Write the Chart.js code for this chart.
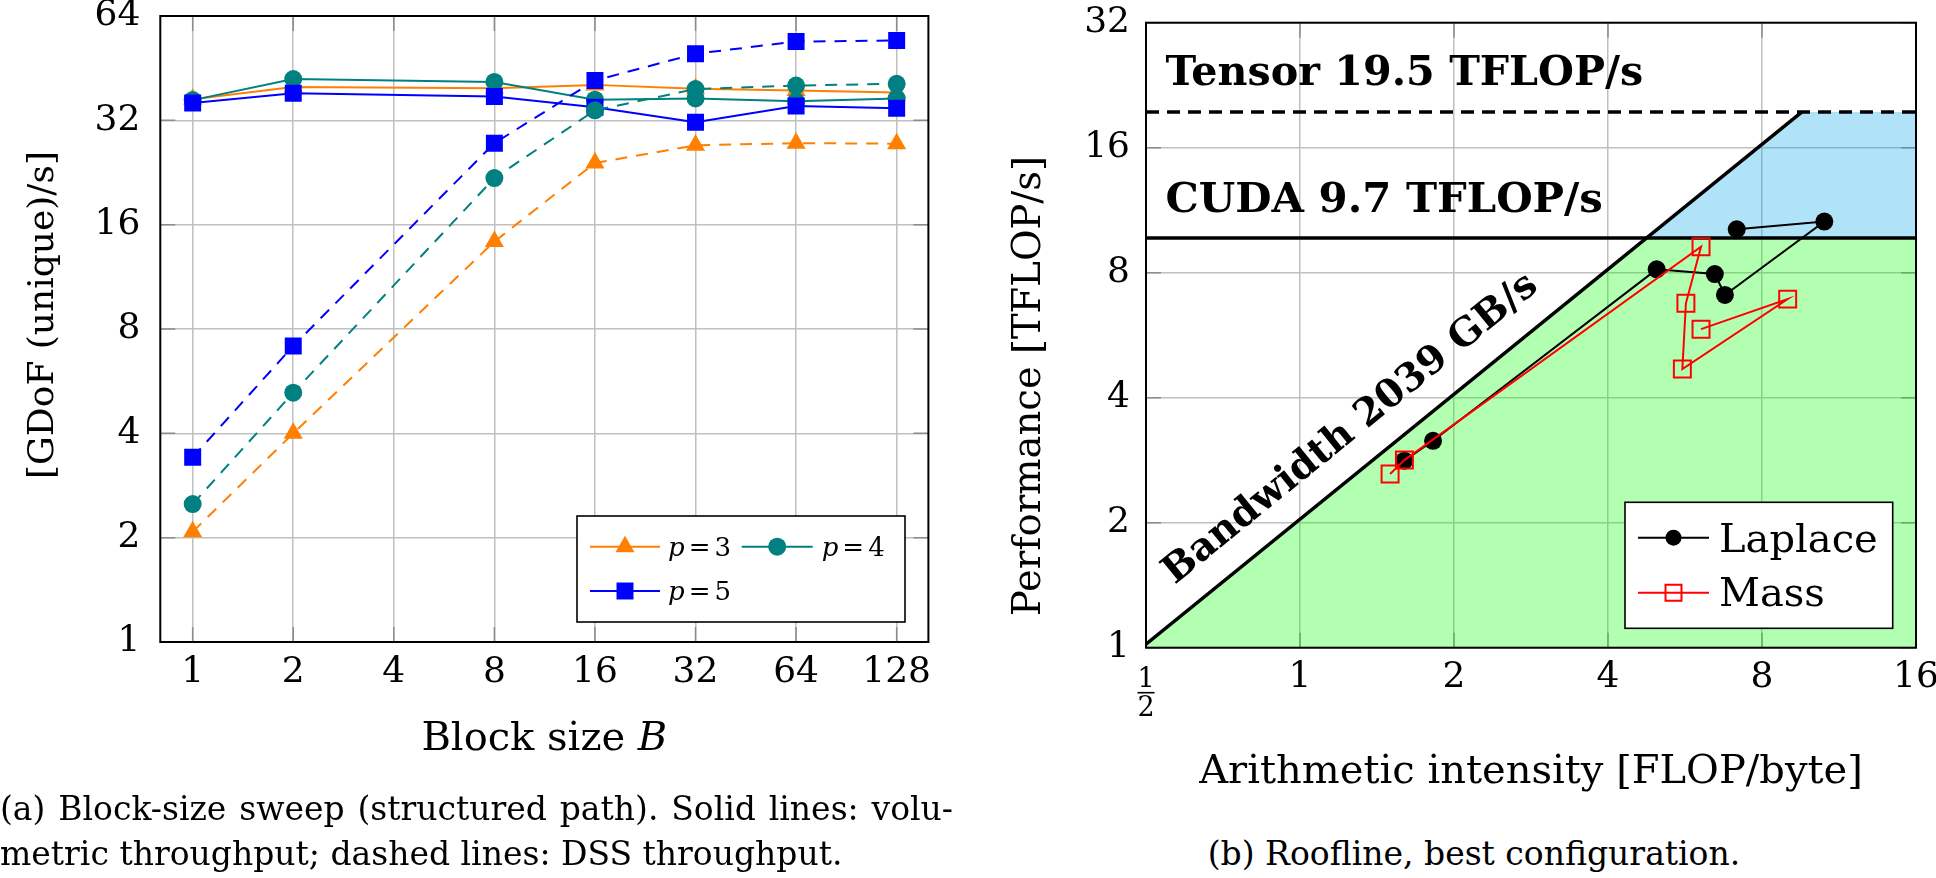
<!DOCTYPE html>
<html>
<head>
<meta charset="utf-8">
<script src="https://cdn.jsdelivr.net/npm/chart.js@4.4.1/dist/chart.umd.min.js"></script>
<style>
  html, body { margin:0; padding:0; background:#ffffff; width:1936px; height:878px; overflow:hidden; }
  canvas { position:absolute; top:0; }
  #left { left:0; }
  #right { left:968px; }
  .cap { position:absolute; font-family:'DejaVu Serif', serif; font-size:33px; line-height:45px; color:#000; white-space:nowrap; }
</style>
</head>
<body>
<canvas id="left" width="968" height="800"></canvas>
<canvas id="right" width="1000" height="800"></canvas>
<div class="cap" style="left:0px; top:786px; width:953px; text-align:justify; text-align-last:justify;">(a) Block-size sweep (structured path). Solid lines: volu-</div>
<div class="cap" style="left:0px; top:831px;">metric throughput; dashed lines: DSS throughput.</div>
<div class="cap" style="left:1206px; top:831px; width:536px; text-align:center;">(b) Roofline, best configuration.</div>
<script>
// ---------------- data: (a) block-size sweep ----------------
const blockSizes = [1, 2, 8, 16, 32, 64, 128];
const volumetricP3 = [36.8, 39.9, 39.6, 40.5, 39.5, 39.0, 38.5];
const volumetricP4 = [36.6, 42.1, 41.3, 36.7, 37.0, 36.3, 37.0];
const volumetricP5 = [35.9, 38.3, 37.5, 34.9, 31.6, 35.2, 34.7];
const dssP3 = [2.08, 4.0, 14.3, 24.1, 27.1, 27.5, 27.4];
const dssP4 = [2.50, 5.24, 21.8, 34.2, 39.4, 40.3, 40.8];
const dssP5 = [3.41, 7.15, 27.5, 41.7, 49.8, 54.0, 54.4];
const degreeLabels = ['p=3', 'p=4', 'p=5'];
const blockTickValues = [1, 2, 4, 8, 16, 32, 64, 128];
const blockTickLabels = ['1', '2', '4', '8', '16', '32', '64', '128'];
const throughputTickValues = [1, 2, 4, 8, 16, 32, 64];
const throughputTickLabels = ['1', '2', '4', '8', '16', '32', '64'];

// ---------------- data: (b) roofline ----------------
const laplaceIntensity = [1.60, 1.82, 4.98, 6.47, 6.77, 10.59, 7.14];
const laplacePerformance = [2.82, 3.15, 8.15, 7.94, 7.07, 10.62, 10.18];
const massIntensity = [1.50, 1.60, 6.08, 5.68, 5.59, 8.98, 6.08];
const massPerformance = [2.62, 2.83, 9.24, 6.75, 4.69, 6.91, 5.85];
const kernelLabels = ['Laplace', 'Mass'];
const bandwidthTBs = 2.039;      // 2039 GB/s
const cudaPeak = 9.7;            // TFLOP/s
const tensorPeak = 19.5;         // TFLOP/s
const intensityRange = [0.5, 16];
const intensityTickValues = [0.5, 1, 2, 4, 8, 16];
const intensityTickLabels = [['1', '2'], '1', '2', '4', '8', '16'];
const perfTickValues = [1, 2, 4, 8, 16, 32];
const perfTickLabels = ['1', '2', '4', '8', '16', '32'];
const rooflineTexts = ['Tensor 19.5 TFLOP/s', 'CUDA 9.7 TFLOP/s', 'Bandwidth 2039 GB/s'];

// ---------------- styling ----------------
const SERIF = "'DejaVu Serif', serif";
const GRID = '#c0c0c0';
const TICKC = '#8c8c8c';
const ORANGE = '#ff8000', TEAL = '#008080', BLUE = '#0000ff', RED = '#ff0000';
Chart.defaults.font.family = SERIF;
Chart.defaults.color = '#000';

function toPoints(xs, ys) { return xs.map((x, i) => ({ x: x, y: ys[i] })); }
function logTicks(values) { return function (scale) { scale.ticks = values.map(v => ({ value: v })); }; }

function innerTicks(chart, len) {
  const { ctx, chartArea: a, scales } = chart;
  ctx.save();
  ctx.strokeStyle = TICKC; ctx.lineWidth = 1.5;
  ctx.beginPath();
  scales.x.ticks.forEach(t => {
    const x = scales.x.getPixelForValue(t.value);
    ctx.moveTo(x, a.bottom); ctx.lineTo(x, a.bottom - len);
    ctx.moveTo(x, a.top); ctx.lineTo(x, a.top + len);
  });
  scales.y.ticks.forEach(t => {
    const y = scales.y.getPixelForValue(t.value);
    ctx.moveTo(a.left, y); ctx.lineTo(a.left + len, y);
    ctx.moveTo(a.right, y); ctx.lineTo(a.right - len, y);
  });
  ctx.stroke();
  ctx.restore();
}
function frame(chart) {
  const { ctx, chartArea: a } = chart;
  ctx.save();
  ctx.strokeStyle = '#000'; ctx.lineWidth = 2;
  ctx.strokeRect(a.left, a.top, a.right - a.left, a.bottom - a.top);
  ctx.restore();
}
function marker(ctx, ds, x, y) {
  ctx.save();
  ctx.fillStyle = ds.pointBackgroundColor;
  ctx.strokeStyle = ds.pointBorderColor;
  ctx.lineWidth = ds.pointBorderWidth;
  Chart.helpers.drawPoint(ctx, { pointStyle: ds.pointStyle, radius: ds.pointRadius, borderWidth: ds.pointBorderWidth, rotation: 0 }, x, y);
  ctx.restore();
}
function legendLine(ctx, ds, x0, x1, y) {
  ctx.save();
  ctx.strokeStyle = ds.borderColor; ctx.lineWidth = 2; ctx.setLineDash([]);
  ctx.beginPath(); ctx.moveTo(x0, y); ctx.lineTo(x1, y); ctx.stroke();
  ctx.restore();
  marker(ctx, ds, (x0 + x1) / 2, y);
}
function legendBox(ctx, x, y, w, h) {
  ctx.save();
  ctx.fillStyle = '#fff'; ctx.fillRect(x, y, w, h);
  ctx.strokeStyle = '#000'; ctx.lineWidth = 1.6; ctx.strokeRect(x, y, w, h);
  ctx.restore();
}
function mathLabel(ctx, text, x, yBase, size) {
  const parts = text.split('=');
  ctx.save();
  ctx.fillStyle = '#000'; ctx.textBaseline = 'alphabetic'; ctx.textAlign = 'left';
  ctx.font = 'italic ' + size + 'px ' + SERIF;
  ctx.fillText(parts[0], x, yBase);
  x += ctx.measureText(parts[0]).width + 4;
  ctx.font = size + 'px ' + SERIF;
  ctx.fillText('=', x, yBase);
  x += ctx.measureText('=').width + 4;
  ctx.fillText(parts[1], x, yBase);
  ctx.restore();
}
function fitSize(ctx, text, weight, target) {
  ctx.font = weight + ' 40px ' + SERIF;
  return 40 * target / ctx.measureText(text).width;
}

// ---------------- chart (a) ----------------
function sweepSeries(label, values, color, style, radius, dashed, order) {
  return {
    label: label, data: toPoints(blockSizes, values),
    borderColor: color, backgroundColor: color, borderWidth: 2,
    borderDash: dashed ? [12, 9] : [],
    pointStyle: style, pointRadius: radius, pointHoverRadius: radius,
    pointBackgroundColor: color, pointBorderColor: color, pointBorderWidth: 0,
    fill: false, tension: 0, order: order
  };
}
const leftDatasets = [
  sweepSeries(degreeLabels[0], volumetricP3, ORANGE, 'triangle', 11, false, 6),
  sweepSeries(degreeLabels[1], volumetricP4, TEAL, 'circle', 9, false, 5),
  sweepSeries(degreeLabels[2], volumetricP5, BLUE, 'rect', 12, false, 4),
  sweepSeries(degreeLabels[0] + ' DSS', dssP3, ORANGE, 'triangle', 11, true, 3),
  sweepSeries(degreeLabels[1] + ' DSS', dssP4, TEAL, 'circle', 9, true, 2),
  sweepSeries(degreeLabels[2] + ' DSS', dssP5, BLUE, 'rect', 12, true, 1)
];

const leftDecor = {
  id: 'leftDecor',
  beforeDatasetsDraw(chart) { innerTicks(chart, 15); },
  afterDatasetsDraw(chart) {
    const { ctx, chartArea: a } = chart;
    frame(chart);
    // legend
    const ds = chart.data.datasets;
    legendBox(ctx, 577, 516, 328, 106);
    legendLine(ctx, ds[0], 590, 660, 546.7); mathLabel(ctx, degreeLabels[0], 668, 555.5, 26);
    legendLine(ctx, ds[1], 741.7, 812.7, 546.7); mathLabel(ctx, degreeLabels[1], 821.7, 555.5, 26);
    legendLine(ctx, ds[2], 590, 660, 591); mathLabel(ctx, degreeLabels[2], 668, 599.8, 26);
    // axis titles
    ctx.save();
    ctx.fillStyle = '#000';
    ctx.font = '40px ' + SERIF;
    const t1 = 'Block size ';
    const w1 = ctx.measureText(t1).width;
    ctx.font = 'italic 40px ' + SERIF;
    const w2 = ctx.measureText('B').width;
    let x = (a.left + a.right) / 2 - (w1 + w2) / 2;
    ctx.textAlign = 'left'; ctx.textBaseline = 'alphabetic';
    ctx.font = '40px ' + SERIF; ctx.fillText(t1, x, 750);
    ctx.font = 'italic 40px ' + SERIF; ctx.fillText('B', x + w1, 750);
    ctx.translate(44, 315); ctx.rotate(-Math.PI / 2);
    ctx.font = '36px ' + SERIF; ctx.textAlign = 'center'; ctx.textBaseline = 'middle';
    ctx.fillText('[GDoF (unique)/s]', 0, 0);
    ctx.restore();
  }
};

new Chart(document.getElementById('left'), {
  type: 'line',
  data: { datasets: leftDatasets },
  options: {
    responsive: false, animation: false, devicePixelRatio: 1, events: [],
    layout: { autoPadding: false, padding: { left: 0, top: 16, right: 39.6, bottom: 0 } },
    plugins: { legend: { display: false }, tooltip: { enabled: false } },
    scales: {
      x: {
        type: 'logarithmic', position: 'bottom', min: 0.8, max: 159.3,
        afterBuildTicks: logTicks(blockTickValues),
        afterFit: (s) => { s.height = 158; },
        ticks: { autoSkip: false, maxRotation: 0, minRotation: 0, padding: 0, color: '#000',
                 font: { family: SERIF, size: 36, lineHeight: 0.7 },
                 callback: (v, i) => blockTickLabels[i] },
        grid: { color: GRID, lineWidth: 1.5, tickLength: 18, tickColor: 'rgba(0,0,0,0)' },
        border: { display: false }
      },
      y: {
        type: 'logarithmic', position: 'left', min: 1, max: 64,
        afterBuildTicks: logTicks(throughputTickValues),
        afterFit: (s) => { s.width = 160.3; },
        ticks: { autoSkip: false, padding: 0, color: '#000',
                 font: { family: SERIF, size: 36, lineHeight: 0.7 },
                 callback: (v, i) => throughputTickLabels[i] },
        grid: { color: GRID, lineWidth: 1.5, tickLength: 20, tickColor: 'rgba(0,0,0,0)' },
        border: { display: false }
      }
    }
  },
  plugins: [leftDecor]
});

// ---------------- chart (b) ----------------
const ridgeCuda = cudaPeak / bandwidthTBs;
const ridgeTensor = tensorPeak / bandwidthTBs;
const rightDatasets = [
  { label: kernelLabels[1], data: toPoints(massIntensity, massPerformance),
    borderColor: RED, backgroundColor: RED, borderWidth: 2,
    pointStyle: 'rect', pointRadius: 12, pointHoverRadius: 12,
    pointBackgroundColor: 'rgba(0,0,0,0)', pointBorderColor: RED, pointBorderWidth: 2,
    fill: false, tension: 0, order: 1 },
  { label: kernelLabels[0], data: toPoints(laplaceIntensity, laplacePerformance),
    borderColor: '#000', backgroundColor: '#000', borderWidth: 2,
    pointStyle: 'circle', pointRadius: 9, pointHoverRadius: 9,
    pointBackgroundColor: '#000', pointBorderColor: '#000', pointBorderWidth: 0,
    fill: false, tension: 0, order: 2 },
  { label: 'bandwidth', data: [{ x: intensityRange[0], y: bandwidthTBs * intensityRange[0] }, { x: ridgeTensor, y: tensorPeak }],
    borderColor: '#000', borderWidth: 3.5, pointRadius: 0, fill: false, order: 5 },
  { label: 'cuda', data: [{ x: intensityRange[0], y: cudaPeak }, { x: intensityRange[1], y: cudaPeak }],
    borderColor: '#000', borderWidth: 3.5, pointRadius: 0, fill: false, order: 5 },
  { label: 'tensor', data: [{ x: intensityRange[0], y: tensorPeak }, { x: intensityRange[1], y: tensorPeak }],
    borderColor: '#000', borderWidth: 3.5, borderDash: [13, 8], pointRadius: 0, fill: false, order: 5 },
  { label: 'cuda region', data: [{ x: intensityRange[0], y: bandwidthTBs * intensityRange[0] }, { x: ridgeCuda, y: cudaPeak }, { x: intensityRange[1], y: cudaPeak }],
    borderColor: 'rgba(0,0,0,0)', borderWidth: 0, pointRadius: 0, fill: 'start',
    backgroundColor: 'rgba(0,255,0,0.3)', order: 10 },
  { label: 'tensor region', data: [{ x: ridgeCuda, y: cudaPeak }, { x: ridgeTensor, y: tensorPeak }, { x: intensityRange[1], y: tensorPeak }],
    borderColor: 'rgba(0,0,0,0)', borderWidth: 0, pointRadius: 0, fill: { value: cudaPeak },
    backgroundColor: 'rgba(0,165,230,0.31)', order: 10 }
];

const rightDecor = {
  id: 'rightDecor',
  beforeDatasetsDraw(chart) { innerTicks(chart, 15); },
  afterDatasetsDraw(chart) {
    const { ctx, chartArea: a, scales } = chart;
    const xs = scales.x, ys = scales.y;
    frame(chart);
    ctx.save();
    ctx.fillStyle = '#000'; ctx.textAlign = 'left'; ctx.textBaseline = 'alphabetic';
    let s = fitSize(ctx, rooflineTexts[0], 'bold', 478);
    ctx.font = 'bold ' + s + 'px ' + SERIF; ctx.fillText(rooflineTexts[0], 197.4, 85);
    s = fitSize(ctx, rooflineTexts[1], 'bold', 437.6);
    ctx.font = 'bold ' + s + 'px ' + SERIF; ctx.fillText(rooflineTexts[1], 197.4, 211.5);
    // bandwidth label along the line
    const x0 = xs.getPixelForValue(intensityRange[0]), y0 = ys.getPixelForValue(bandwidthTBs * intensityRange[0]);
    const x1 = xs.getPixelForValue(ridgeTensor), y1 = ys.getPixelForValue(tensorPeak);
    const ang = Math.atan2(y1 - y0, x1 - x0);
    const li = 1.4;
    const px = xs.getPixelForValue(li), py = ys.getPixelForValue(bandwidthTBs * li);
    const off = 38;
    s = fitSize(ctx, rooflineTexts[2], 'bold', 470);
    ctx.translate(px + off * Math.sin(ang), py - off * Math.cos(ang));
    ctx.rotate(ang);
    ctx.font = 'bold ' + s + 'px ' + SERIF; ctx.textAlign = 'center'; ctx.textBaseline = 'middle';
    ctx.fillText(rooflineTexts[2], 0, 0);
    ctx.restore();
    // stacked fraction label for the first intensity tick
    ctx.save();
    const fx = xs.getPixelForValue(intensityTickValues[0]);
    const frac = intensityTickLabels[0];
    ctx.fillStyle = '#000'; ctx.strokeStyle = '#000'; ctx.lineWidth = 1.6;
    ctx.font = '27px ' + SERIF; ctx.textAlign = 'center'; ctx.textBaseline = 'middle';
    ctx.fillText(frac[0], fx, a.bottom + 32.5);
    ctx.fillText(frac[1], fx, a.bottom + 61);
    ctx.beginPath(); ctx.moveTo(fx - 8.5, a.bottom + 45); ctx.lineTo(fx + 8.5, a.bottom + 45); ctx.stroke();
    ctx.restore();
    // legend
    const ds = chart.data.datasets;
    legendBox(ctx, 657, 502.3, 267.7, 126);
    legendLine(ctx, Object.assign({}, ds[1], { pointRadius: 8 }), 670, 741, 537.7);
    legendLine(ctx, Object.assign({}, ds[0], { pointRadius: 11.3 }), 670, 741, 592.7);
    ctx.save();
    ctx.fillStyle = '#000'; ctx.font = '40px ' + SERIF; ctx.textAlign = 'left'; ctx.textBaseline = 'alphabetic';
    ctx.fillText(kernelLabels[0], 751, 551.7);
    ctx.fillText(kernelLabels[1], 751, 606);
    // axis titles
    ctx.textAlign = 'center';
    ctx.fillText('Arithmetic intensity [FLOP/byte]', (a.left + a.right) / 2, 783.3);
    ctx.translate(62, 386); ctx.rotate(-Math.PI / 2);
    ctx.font = '38.5px ' + SERIF; ctx.textBaseline = 'middle';
    ctx.fillText('Performance [TFLOP/s]', 0, 0);
    ctx.restore();
  }
};

new Chart(document.getElementById('right'), {
  type: 'line',
  data: { datasets: rightDatasets },
  options: {
    responsive: false, animation: false, devicePixelRatio: 1, events: [],
    layout: { autoPadding: false, padding: { left: 0, top: 22.7, right: 52, bottom: 0 } },
    plugins: { legend: { display: false }, tooltip: { enabled: false } },
    scales: {
      x: {
        type: 'logarithmic', position: 'bottom', min: intensityRange[0], max: intensityRange[1],
        afterBuildTicks: logTicks(intensityTickValues),
        afterFit: (s) => { s.height = 152.3; },
        ticks: { autoSkip: false, maxRotation: 0, minRotation: 0, padding: 0, color: '#000',
                 font: { family: SERIF, size: 36, lineHeight: 0.7 },
                 callback: (v, i) => (Array.isArray(intensityTickLabels[i]) ? '' : intensityTickLabels[i]) },
        grid: { color: GRID, lineWidth: 1.5, tickLength: 17.7, tickColor: 'rgba(0,0,0,0)' },
        border: { display: false }
      },
      y: {
        type: 'logarithmic', position: 'left', min: 1, max: 32,
        afterBuildTicks: logTicks(perfTickValues),
        afterFit: (s) => { s.width = 178; },
        ticks: { autoSkip: false, padding: 0, color: '#000',
                 font: { family: SERIF, size: 36, lineHeight: 0.7 },
                 callback: (v, i) => perfTickLabels[i] },
        grid: { color: GRID, lineWidth: 1.5, tickLength: 16, tickColor: 'rgba(0,0,0,0)' },
        border: { display: false }
      }
    }
  },
  plugins: [rightDecor]
});
</script>
</body>
</html>
